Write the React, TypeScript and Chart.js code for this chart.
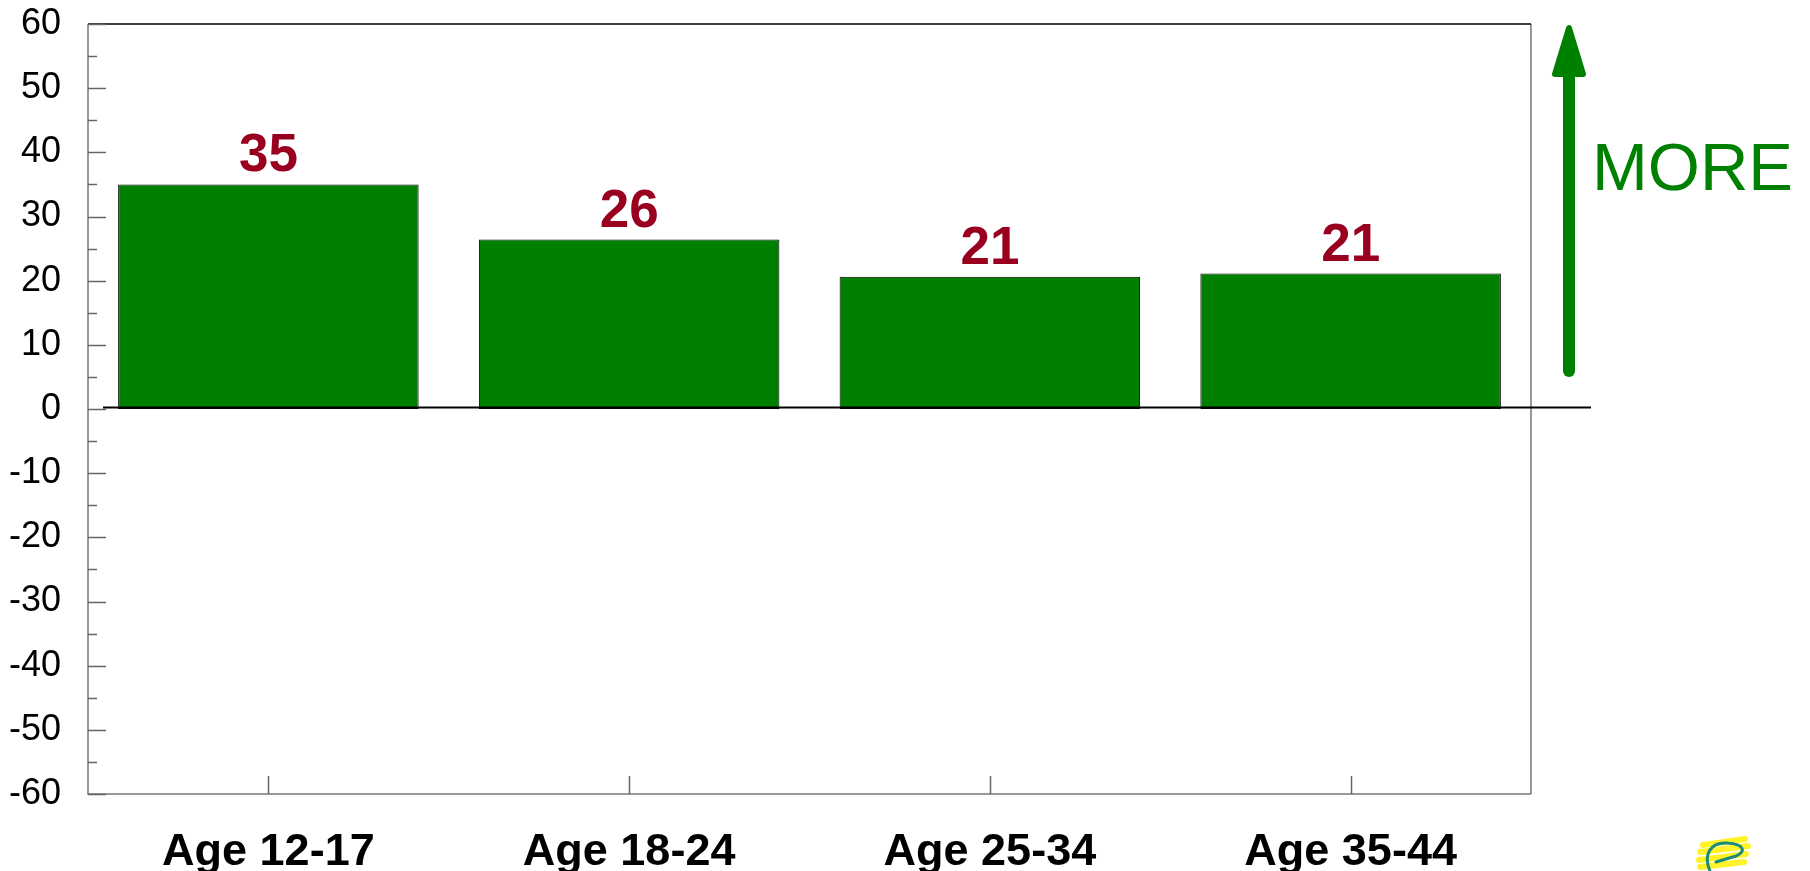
import React, { useEffect, useRef } from "react";
import { Chart, registerables } from "chart.js";

Chart.register(...registerables);

const categories = ["Age 12-17", "Age 18-24", "Age 25-34", "Age 35-44"];
const values = [35, 26.4, 20.6, 21.1];
const valueLabels = ["35", "26", "21", "21"];
const yMin = -60;
const yMax = 60;
const yStep = 10;
const annotationText = "MORE";

const FONT = "'Liberation Sans', Arial, Helvetica, sans-serif";

const decorPlugin = {
  id: "decor",
  afterDatasetsDraw(chart: any) {
    const { ctx, chartArea, scales } = chart;
    const { left, right, top, bottom } = chartArea;
    const x = scales.x;
    const y = scales.y;
    ctx.save();

    // frame
    ctx.lineWidth = 1.5;
    ctx.strokeStyle = "#777";
    ctx.beginPath();
    ctx.moveTo(left, top);
    ctx.lineTo(left, bottom);
    ctx.lineTo(right, bottom);
    ctx.moveTo(right, top);
    ctx.lineTo(right, bottom);
    ctx.stroke();
    ctx.strokeStyle = "#000";
    ctx.beginPath();
    ctx.moveTo(left, top);
    ctx.lineTo(right, top);
    ctx.stroke();

    // y ticks (inside)
    ctx.strokeStyle = "#666";
    ctx.lineWidth = 1.5;
    ctx.beginPath();
    for (let v = yMin; v <= yMax; v += yStep / 2) {
      const py = Math.round(y.getPixelForValue(v)) + 0.5;
      const len = v % yStep === 0 ? 18 : 9;
      ctx.moveTo(left, py);
      ctx.lineTo(left + len, py);
    }
    // x category ticks (inside)
    categories.forEach((_, i) => {
      const px = Math.round(x.getPixelForValue(i)) + 0.5;
      ctx.moveTo(px, bottom);
      ctx.lineTo(px, bottom - 18);
    });
    ctx.stroke();

    // zero line
    const y0 = y.getPixelForValue(0) - 1.5;
    ctx.strokeStyle = "#000";
    ctx.lineWidth = 2;
    ctx.beginPath();
    ctx.moveTo(left + 15, y0);
    ctx.lineTo(right + 60, y0);
    ctx.stroke();

    // value labels
    const meta = chart.getDatasetMeta(0);
    ctx.fillStyle = "#990020";
    ctx.font = `bold 53px ${FONT}`;
    ctx.textAlign = "center";
    ctx.textBaseline = "alphabetic";
    meta.data.forEach((bar: any, i: number) => {
      ctx.fillText(valueLabels[i], bar.x, bar.y - 13);
    });

    // arrow
    const ax = right + 38;
    ctx.strokeStyle = "#008000";
    ctx.fillStyle = "#008000";
    ctx.lineCap = "round";
    ctx.lineWidth = 12;
    ctx.beginPath();
    ctx.moveTo(ax, 371);
    ctx.lineTo(ax, 75);
    ctx.stroke();
    ctx.lineJoin = "round";
    ctx.lineWidth = 6;
    ctx.beginPath();
    ctx.moveTo(ax, 28);
    ctx.lineTo(ax - 14, 74);
    ctx.lineTo(ax + 14, 74);
    ctx.closePath();
    ctx.fill();
    ctx.stroke();

    // MORE text
    ctx.font = `67px ${FONT}`;
    ctx.textAlign = "left";
    ctx.fillText(annotationText, right + 61, 190);

    // small logo (bottom right)
    ctx.lineCap = "round";
    ctx.strokeStyle = "rgba(255,240,0,0.85)";
    ctx.lineWidth = 6;
    ctx.beginPath();
    ctx.moveTo(1703, 845);
    ctx.lineTo(1745, 839);
    ctx.moveTo(1700, 852);
    ctx.lineTo(1748, 846);
    ctx.moveTo(1699, 860);
    ctx.lineTo(1746, 854);
    ctx.moveTo(1700, 867);
    ctx.lineTo(1744, 862);
    ctx.stroke();
    ctx.strokeStyle = "#1a8a7a";
    ctx.lineWidth = 3;
    ctx.beginPath();
    ctx.moveTo(1710, 871);
    ctx.bezierCurveTo(1703, 855, 1710, 842, 1727, 843);
    ctx.bezierCurveTo(1745, 844, 1746, 852, 1736, 856);
    ctx.lineTo(1716, 862);
    ctx.stroke();

    ctx.restore();
  },
};

export default function App() {
  const canvasRef = useRef<HTMLCanvasElement | null>(null);

  useEffect(() => {
    document.body.style.margin = "0";
    const canvas = canvasRef.current;
    if (!canvas) return;
    const chart = new Chart(canvas, {
      type: "bar",
      data: {
        labels: categories,
        datasets: [
          {
            data: values,
            backgroundColor: "#008000",
            borderColor: "#000",
            borderWidth: 1,
            borderSkipped: false,
            categoryPercentage: 1,
            barPercentage: 0.833,
          },
        ],
      },
      options: {
        responsive: false,
        animation: false,
        devicePixelRatio: 1,
        layout: { padding: { top: 24, right: 279, left: 0, bottom: 0 } },
        plugins: {
          legend: { display: false },
          tooltip: { enabled: false },
          title: { display: false },
        },
        scales: {
          x: {
            type: "category",
            grid: { display: false, drawTicks: false },
            border: { display: false },
            ticks: {
              color: "#000",
              font: { family: FONT, size: 45, weight: "bold" },
              padding: 32,
              maxRotation: 0,
              autoSkip: false,
            },
            afterFit(scale: any) {
              scale.height = 77;
              scale.paddingLeft = 0;
              scale.paddingRight = 0;
            },
          },
          y: {
            min: yMin,
            max: yMax,
            grid: { display: false, drawTicks: false },
            border: { display: false },
            ticks: {
              stepSize: yStep,
              color: "#000",
              font: { family: FONT, size: 36 },
              padding: 27,
            },
            afterFit(scale: any) {
              scale.width = 88;
              scale.paddingTop = 0;
              scale.paddingBottom = 0;
            },
          },
        },
      },
      plugins: [decorPlugin],
    });
    return () => chart.destroy();
  }, []);

  return (
    <div style={{ position: "fixed", left: 0, top: 0, width: 1810, height: 871 }}>
      <canvas ref={canvasRef} width={1810} height={871} style={{ display: "block" }} />
    </div>
  );
}
